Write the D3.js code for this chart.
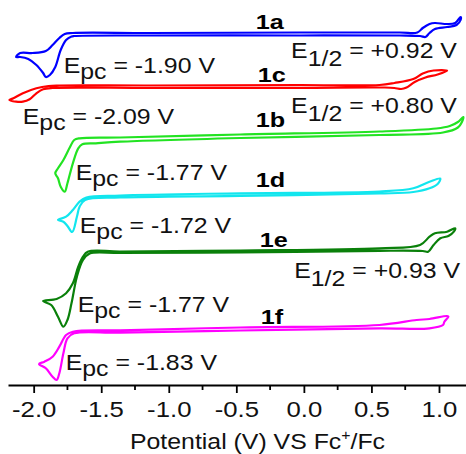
<!DOCTYPE html>
<html>
<head>
<meta charset="utf-8">
<script src="https://cdn.jsdelivr.net/npm/d3@7"></script>
<style>
  html, body { margin: 0; padding: 0; background: #fff; }
  svg { display: block; }
</style>
</head>
<body>
<div id="chart"></div>
<script>
/* stacked cyclic voltammograms, 1a-1f, potential vs Fc+/Fc
   each loop: upper trace left tip -> right tip, then lower trace back.
   current is in arbitrary units, already offset for stacking */
var compounds = ["1a", "1c", "1b", "1d", "1e", "1f"];
var colors    = ["#0000ff", "#ff0000", "#22e322", "#12e6ee", "#0a800a", "#ff00ff"];
var epcValues = ["-1.90", "-2.09", "-1.77", "-1.72", "-1.77", "-1.83"];
var e12Values = ["+0.92", "+0.80", null, null, "+0.93", null];

var cv1a = [[-2.13,32.8],[-2.10,33.2],[-2.01,33.2],[-1.91,33.4],[-1.86,34.0],[-1.81,34.7],[-1.77,35.1],[-1.71,35.2],
  [-1.14,35.2],[-0.03,35.25],[0.71,35.25],[0.84,35.25],[0.88,35.7],[0.93,36.1],[0.97,36.2],[1.06,36.1],[1.12,36.2],[1.16,36.8],
  [1.16,36.5],[1.13,36.0],[1.06,35.8],[0.97,35.6],[0.93,35.2],[0.90,34.8],[0.86,34.9],[0.71,34.95],[-0.03,34.95],
  [-1.14,34.95],[-1.70,34.9],[-1.72,34.85],[-1.76,34.5],[-1.80,33.5],[-1.84,31.8],[-1.88,31.0],[-1.91,30.8],
  [-1.93,31.2],[-1.98,32.0],[-2.04,32.6],[-2.10,32.8]];
var cv1c = [[-2.18,28.5],[-2.15,28.67],[-2.08,29.17],[-1.98,29.67],[-1.89,29.9],[-1.81,29.95],[-1.14,29.95],[-0.03,30.0],
  [0.56,30.0],[0.67,30.2],[0.81,30.6],[0.88,31.15],[0.96,31.45],[1.06,31.43],
  [0.99,31.05],[0.90,30.75],[0.82,30.3],[0.76,29.75],[0.72,29.6],[0.67,29.7],[0.60,29.75],[-0.03,29.72],[-1.14,29.7],
  [-1.86,29.7],[-1.93,29.57],[-1.98,29.17],[-2.03,28.57],[-2.08,28.33],[-2.13,28.33]];
var cv1b = [[-1.84,21.17],[-1.82,21.67],[-1.78,22.5],[-1.73,23.83],[-1.70,24.5],[-1.66,24.67],[-1.36,24.75],[-0.47,25.05],
  [0.56,25.35],[0.98,25.65],[1.08,25.9],[1.14,26.3],[1.18,26.8],
  [1.17,26.3],[1.14,25.75],[1.03,25.25],[0.56,25.0],[-0.47,24.7],[-1.36,24.33],[-1.54,24.17],[-1.64,24.07],
  [-1.67,23.67],[-1.71,22.17],[-1.75,20.17],[-1.77,19.33],[-1.80,19.83],[-1.82,20.67]];
var cv1d = [[-1.82,16.5],[-1.76,16.83],[-1.71,17.5],[-1.66,18.33],[-1.61,18.75],[-1.36,18.95],[-0.47,19.17],[0.56,19.35],
  [0.81,19.67],[0.93,20.33],[1.01,20.65],
  [0.99,20.1],[0.93,19.67],[0.81,19.3],[0.56,19.15],[-0.47,18.92],[-1.36,18.75],[-1.62,18.5],[-1.66,17.83],
  [-1.68,16.83],[-1.715,15.3],[-1.75,15.9],[-1.78,16.33]];
var cv1e = [[-1.93,8.4],[-1.83,8.6],[-1.76,9.17],[-1.71,10.17],[-1.67,11.83],[-1.635,12.83],[-1.60,13.33],[-1.36,13.35],
  [-0.47,13.45],[0.56,13.67],[0.86,14.0],[0.93,14.83],[0.97,15.17],[1.06,15.33],[1.12,15.67],
  [1.11,15.33],[1.07,14.9],[1.01,14.67],[0.96,14.0],[0.92,13.33],[0.88,13.4],[0.56,13.42],[-0.47,13.25],[-1.36,13.2],
  [-1.585,13.15],[-1.635,12.5],[-1.68,10.83],[-1.72,8.17],[-1.75,6.5],[-1.78,5.83],[-1.82,6.83],[-1.87,8.0]];
var cv1f = [[-1.96,2.1],[-1.92,2.33],[-1.86,2.83],[-1.81,3.83],[-1.76,5.0],[-1.71,5.33],[-1.36,5.47],[-0.47,5.75],
  [0.56,6.0],[0.835,6.5],[0.93,6.6],[1.06,6.9],[1.07,6.85],
  [1.04,6.33],[1.03,6.0],[0.93,5.67],[0.56,5.67],[-0.47,5.45],[-1.36,5.23],[-1.70,5.17],[-1.75,4.67],[-1.78,3.17],
  [-1.81,1.17],[-1.83,0.5],[-1.86,0.83],[-1.91,1.67]];
var cvData = [cv1a, cv1c, cv1b, cv1d, cv1e, cv1f];

var xTicks = [-2.0, -1.5, -1.0, -0.5, 0.0, 0.5, 1.0];
var xMinor = [-1.75, -1.25, -0.75, -0.25, 0.25, 0.75];

var W = 466, H = 454;
var FONT = "'Liberation Sans', Arial, sans-serif";
var SX = 1.13; // text in the original is a little stretched sideways

var x = d3.scaleLinear().domain([-2.19, 1.2]).range([8, 466]);
var y = d3.scaleLinear().domain([0, 38.5]).range([385, 0]);

var svg = d3.select("#chart").append("svg").attr("width", W).attr("height", H);

// label anchors (potential, current) - layout only
var nameAt = [[-0.356,35.6],[-0.341,30.35],[-0.356,25.8],[-0.356,19.85],[-0.326,13.8],[-0.319,6.15]];
var epcAt  = [[-1.778,31.2],[-2.081,26.1],[-1.689,20.5],[-1.659,15.2],[-1.674,7.3],[-1.763,1.5]];
var e12At  = [[1.133,32.7],[1.133,27.2],null,null,[1.156,10.7],null];

var line = d3.line().x(function(d){ return x(d[0]); }).y(function(d){ return y(d[1]); })
  .curve(d3.curveCatmullRomClosed.alpha(0.5));

cvData.forEach(function(c, i){
  svg.append("path").attr("d", line(c)).attr("fill", "none")
    .attr("stroke", colors[i]).attr("stroke-width", 2.2).attr("stroke-linejoin", "round");
});

function stretched(px, py, sx){
  return "translate(" + px + "," + py + ") scale(" + (sx || SX) + ",1)";
}

// compound names
compounds.forEach(function(n, i){
  svg.append("text").attr("transform", stretched(x(nameAt[i][0]), y(nameAt[i][1]), 1.2))
    .attr("font-family", FONT).attr("font-size", 21).attr("font-weight", "bold").text(n);
});

// Epc labels
epcValues.forEach(function(v, i){
  var t = svg.append("text").attr("transform", stretched(x(epcAt[i][0]), y(epcAt[i][1])))
    .attr("font-family", FONT).attr("font-size", 22).attr("fill", "#111");
  t.append("tspan").text("E");
  t.append("tspan").attr("dy", 6).text("pc");
  t.append("tspan").attr("dy", -6).text(" = " + v + " V");
});

// E1/2 labels
e12Values.forEach(function(v, i){
  if (v == null) return;
  var t = svg.append("text").attr("transform", stretched(x(e12At[i][0]), y(e12At[i][1])))
    .attr("font-family", FONT).attr("font-size", 22).attr("fill", "#111").attr("text-anchor", "end");
  t.append("tspan").text("E");
  t.append("tspan").attr("dy", 8).text("1/2");
  t.append("tspan").attr("dy", -8).text(" = " + v + " V");
});

// x axis
var ax = svg.append("g").attr("transform", "translate(0," + y(0) + ")");
ax.call(d3.axisBottom(x).tickValues(xTicks).tickSize(8).tickSizeOuter(0).tickPadding(8)
  .tickFormat(function(d){ return d3.format(".1f")(d).replace("\u2212", "-"); }));
ax.select(".domain").attr("stroke", "#000").attr("stroke-width", 1.8);
ax.selectAll(".tick line").attr("stroke", "#000").attr("stroke-width", 1.8);
ax.selectAll(".tick text").attr("font-family", FONT).attr("font-size", 22).attr("fill", "#111")
  .attr("transform", "scale(1.17,1)");
ax.selectAll(".minor").data(xMinor).enter().append("line").attr("class", "minor")
  .attr("x1", function(d){ return x(d); }).attr("x2", function(d){ return x(d); })
  .attr("y1", 0).attr("y2", 5).attr("stroke", "#000").attr("stroke-width", 1.8);

var title = svg.append("text").attr("transform", stretched(257.5, 449))
  .attr("font-family", FONT).attr("font-size", 22).attr("fill", "#111").attr("text-anchor", "middle");
title.append("tspan").text("Potential (V) VS Fc");
title.append("tspan").attr("dy", -9).attr("font-size", 14).text("+");
title.append("tspan").attr("dy", 9).text("/Fc");
</script>
</body>
</html>
